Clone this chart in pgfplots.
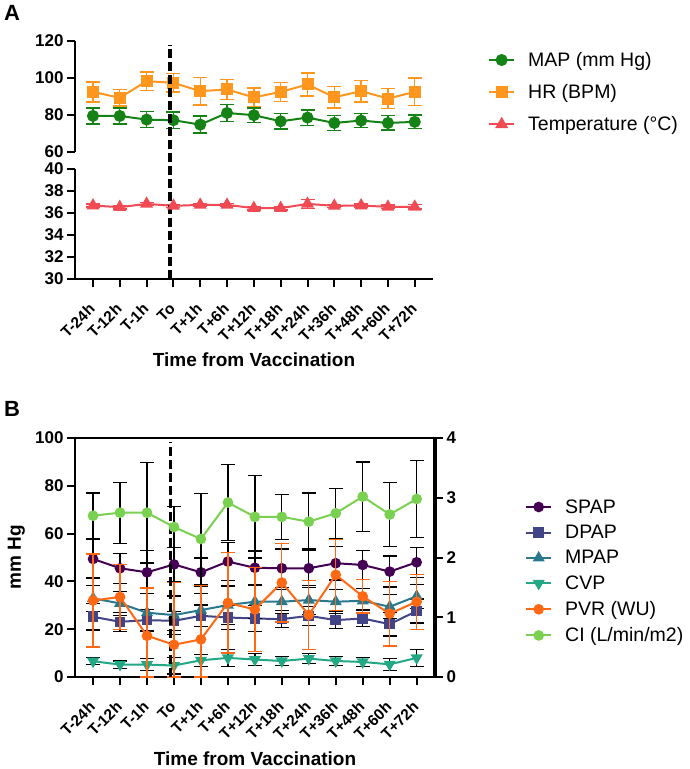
\documentclass[border=0pt]{standalone}
\usepackage{fontspec}
\setmainfont{Liberation Sans}
\usepackage{pgfplots}
\pgfplotsset{compat=1.18}
\definecolor{cMAP}{RGB}{20,130,20}
\definecolor{cHR}{RGB}{255,150,30}
\definecolor{cT}{RGB}{240,75,85}
\definecolor{cSPAP}{HTML}{440154}
\definecolor{cDPAP}{HTML}{414487}
\definecolor{cMPAP}{HTML}{2A788E}
\definecolor{cCVP}{HTML}{22A884}
\definecolor{cPVR}{RGB}{255,105,20}
\definecolor{cCI}{HTML}{7AD151}

\pgfplotsset{
  gp/.style={
    scale only axis, anchor=north west, clip=false,
    xmin=-0.67, xmax=12.68,
    xtick={0,...,12},
    xticklabels={T-24h,T-12h,T-1h,To,T+1h,T+6h,T+12h,T+18h,T+24h,T+36h,T+48h,T+60h,T+72h},
    tick align=outside, major tick length=8pt,
    major tick style={black, line width=2pt},
    axis line style={-, line width=2.2pt},
    /pgf/number format/assume math mode=true,
    yticklabel style={font=\fontsize{17}{17}\selectfont\bfseries},
    xticklabel style={font=\fontsize{15.5}{15.5}\selectfont\bfseries, xshift=-5pt, yshift=-15pt, rotate=45, anchor=north east, inner sep=0pt},
    xlabel style={font=\fontsize{19}{19}\selectfont\bfseries},
    ylabel style={font=\fontsize{19}{19}\selectfont\bfseries},
    legend style={draw=none, fill=none, inner sep=0pt, font=\fontsize{19.5}{19.5}\selectfont, nodes={inner sep=1pt}, column sep=12pt},
    legend cell align=left,
    legend image code/.code={\draw[mark repeat=2,mark phase=2] plot coordinates {(0pt,0pt)(12.5pt,0pt)(25pt,0pt)};},
  },
  serA/.style={line width=2pt, color=#1, mark size=5pt, mark options={solid, fill=#1},
    error bars/y dir=both, error bars/y explicit,
    error bars/error bar style={#1, line width=1.4pt},
    error bars/error mark options={rotate=90, #1, mark size=7pt, line width=1.4pt}},
  serB/.style={line width=2pt, color=#1, mark size=4.3pt, mark options={solid, fill=#1},
    error bars/y dir=both, error bars/y explicit,
    error bars/error bar style={black, line width=1.3pt},
    error bars/error mark options={rotate=90, black, mark size=7pt, line width=1.3pt}},
}

\begin{document}
\begin{tikzpicture}
\useasboundingbox (0,0) rectangle (689pt,-769pt);
\node[font=\fontsize{22}{22}\selectfont\bfseries] at (12pt,-13pt) {A};
\node[font=\fontsize{22}{22}\selectfont\bfseries] at (12pt,-409pt) {B};

% ---------- Panel A, upper part ----------
\begin{axis}[gp, at={(75pt,-41pt)}, width=358pt, height=111pt,
  ymin=60, ymax=120, ytick={60,80,100,120},
  axis y line*=left, hide x axis,
  legend style={at={(1.1536,0.91)}, anchor=north west, row sep=14.5pt}]
\addplot[serA=cMAP, mark=*] table[x index=0, y index=1, y error index=2, row sep=\\] {
0 79.5 4.3\\ 1 79.5 4.3\\ 2 77.5 4.3\\ 3 77.2 4.5\\ 4 74.8 4.6\\ 5 81.1 4.5\\ 6 79.9 3.8\\
7 76.6 4.2\\ 8 78.6 4.2\\ 9 75.7 4.1\\ 10 77.0 3.8\\ 11 75.7 3.9\\ 12 76.3 3.6\\};
\addlegendentry{MAP (mm Hg)}
\addplot[serA=cHR, mark=square*] table[x index=0, y index=1, y error index=2, row sep=\\] {
0 92.5 5.4\\ 1 89.3 4.5\\ 2 98.3 5.0\\ 3 97.4 5.0\\ 4 92.9 7.4\\ 5 93.8 5.4\\ 6 89.5 5.0\\
7 92.5 5.2\\ 8 96.5 6.2\\ 9 89.6 5.8\\ 10 92.9 5.9\\ 11 88.9 5.4\\ 12 92.5 7.4\\};
\addlegendentry{HR (BPM)}
\addlegendimage{line width=2pt, color=cT, mark=triangle*, mark size=5.5pt, mark options={solid, fill=cT}}
\addlegendentry{Temperature (°C)}
\end{axis}

% ---------- Panel A, lower part ----------
\begin{axis}[gp, at={(75pt,-169pt)}, width=358pt, height=110pt,
  ymin=30, ymax=40, ytick={30,32,...,40},
  axis lines*=left,
  xlabel={Time from Vaccination},
  xlabel style={at={(axis description cs:0.5,-0.736)}, anchor=center}]
\addplot[serA=cT, mark=triangle*, mark size=5.5pt] table[x index=0, y index=1, y error index=2, row sep=\\] {
0 36.68 0.15\\ 1 36.53 0.15\\ 2 36.83 0.15\\ 3 36.65 0.15\\ 4 36.74 0.15\\ 5 36.74 0.15\\ 6 36.44 0.15\\
7 36.44 0.15\\ 8 36.83 0.40\\ 9 36.65 0.15\\ 10 36.68 0.15\\ 11 36.56 0.15\\ 12 36.56 0.20\\};
\addplot[black, line width=3.5pt, dash pattern=on 9pt off 4pt, mark=none] coordinates {(2.88,30) (2.88,51.3)};
\end{axis}

% ---------- Panel B, left axis ----------
\begin{axis}[gp, at={(75pt,-438pt)}, width=360pt, height=239pt,
  ymin=0, ymax=100, ytick={0,20,...,100},
  xtick pos=left, ytick pos=left,
  axis line style={-, line width=2pt},
  xlabel={Time from Vaccination}, ylabel={mm Hg},
  xlabel style={at={(axis description cs:0.5,-0.372)}, anchor=base, inner sep=0pt},
  ylabel style={at={(axis description cs:-0.163,0.5)}, anchor=center},
  legend style={at={(1.25,0.748)}, anchor=north west, row sep=8.5pt}]
\addplot[serB=cSPAP, mark=*] table[x index=0, y index=1, y error index=2, row sep=\\] {
0 49.4 8\\ 1 45.5 6.3\\ 2 43.8 9\\ 3 47.1 7\\ 4 43.8 6\\ 5 48.3 8\\ 6 45.7 7\\
7 45.5 8\\ 8 45.5 8\\ 9 47.6 7\\ 10 46.9 6\\ 11 44.1 6.5\\ 12 48.0 6.3\\};
\addlegendentry{SPAP}
\addplot[serB=cDPAP, mark=square*] table[x index=0, y index=1, y error index=2, row sep=\\] {
0 25.2 5.5\\ 1 23.1 4\\ 2 23.8 4.5\\ 3 23.5 4\\ 4 25.6 4.5\\ 5 24.9 5\\ 6 24.5 5.5\\
7 24.2 3.5\\ 8 25.6 4\\ 9 23.8 3.5\\ 10 24.5 3.5\\ 11 22.1 5\\ 12 27.6 5\\};
\addlegendentry{DPAP}
\addplot[serB=cMPAP, mark=triangle*, mark size=5pt] table[x index=0, y index=1, y error index=2, row sep=\\] {
0 32.9 5.5\\ 1 30.8 5\\ 2 26.9 8\\ 3 25.9 8\\ 4 28.0 7\\ 5 30.1 8\\ 6 31.5 7\\
7 31.5 5\\ 8 32.2 6\\ 9 31.5 5\\ 10 31.9 5\\ 11 29.4 5\\ 12 33.8 5\\};
\addlegendentry{MPAP}
\addplot[serB=cCVP, mark=triangle*, mark size=5pt, mark options={rotate=180}] table[x index=0, y index=1, y error index=2, row sep=\\] {
0 6.6 1.5\\ 1 5.2 1.5\\ 2 5.2 2.5\\ 3 4.8 3.5\\ 4 7.0 2.5\\ 5 8.0 3.5\\ 6 7.3 2.5\\
7 6.7 2\\ 8 7.7 2\\ 9 6.7 2\\ 10 6.3 2\\ 11 5.3 2.5\\ 12 8.0 3.5\\};
\addlegendentry{CVP}
\addlegendimage{line width=2pt, color=cPVR, mark=*, mark size=4.3pt, mark options={solid, fill=cPVR}}
\addlegendentry{PVR (WU)}
\addlegendimage{line width=2pt, color=cCI, mark=*, mark size=4.3pt, mark options={solid, fill=cCI}}
\addlegendentry{CI (L/min/m2)}
\end{axis}

% ---------- Panel B, right axis ----------
\begin{axis}[gp, at={(75pt,-438pt)}, width=360pt, height=239pt,
  ymin=0, ymax=4, ytick={0,1,...,4},
  axis y line*=right, hide x axis,
  axis line style={-, line width=3.5pt}]
\addplot[serB=cPVR, mark=*,
  error bars/error bar style={cPVR, line width=1.3pt},
  error bars/error mark options={rotate=90, cPVR, mark size=7pt, line width=1.3pt}]
  table[x index=0, y index=1, y error plus index=2, y error minus index=3, row sep=\\] {
0 1.28 0.78 0.78\\ 1 1.34 0.54 0.54\\ 2 0.69 0.80 0.69\\ 3 0.54 1.04 0.54\\ 4 0.63 0.91 0.63\\
5 1.24 0.84 0.84\\ 6 1.13 0.70 0.70\\ 7 1.58 0.66 0.66\\ 8 1.04 0.58 0.58\\ 9 1.71 0.60 0.60\\
10 1.35 0.28 0.28\\ 11 1.06 0.54 0.54\\ 12 1.26 0.46 0.46\\};
\addplot[serB=cCI, mark=*] table[x index=0, y index=1, y error index=2, row sep=\\] {
0 2.70 0.38\\ 1 2.75 0.51\\ 2 2.75 0.84\\ 3 2.51 0.34\\ 4 2.31 0.76\\ 5 2.92 0.64\\ 6 2.68 0.69\\
7 2.68 0.38\\ 8 2.60 0.48\\ 9 2.74 0.42\\ 10 3.02 0.58\\ 11 2.72 0.53\\ 12 2.98 0.64\\};
\addplot[black, line width=3.5pt, dash pattern=on 9pt off 4pt, mark=none] coordinates {(2.88,0) (2.88,3.94)};
\end{axis}
\end{tikzpicture}
\end{document}
